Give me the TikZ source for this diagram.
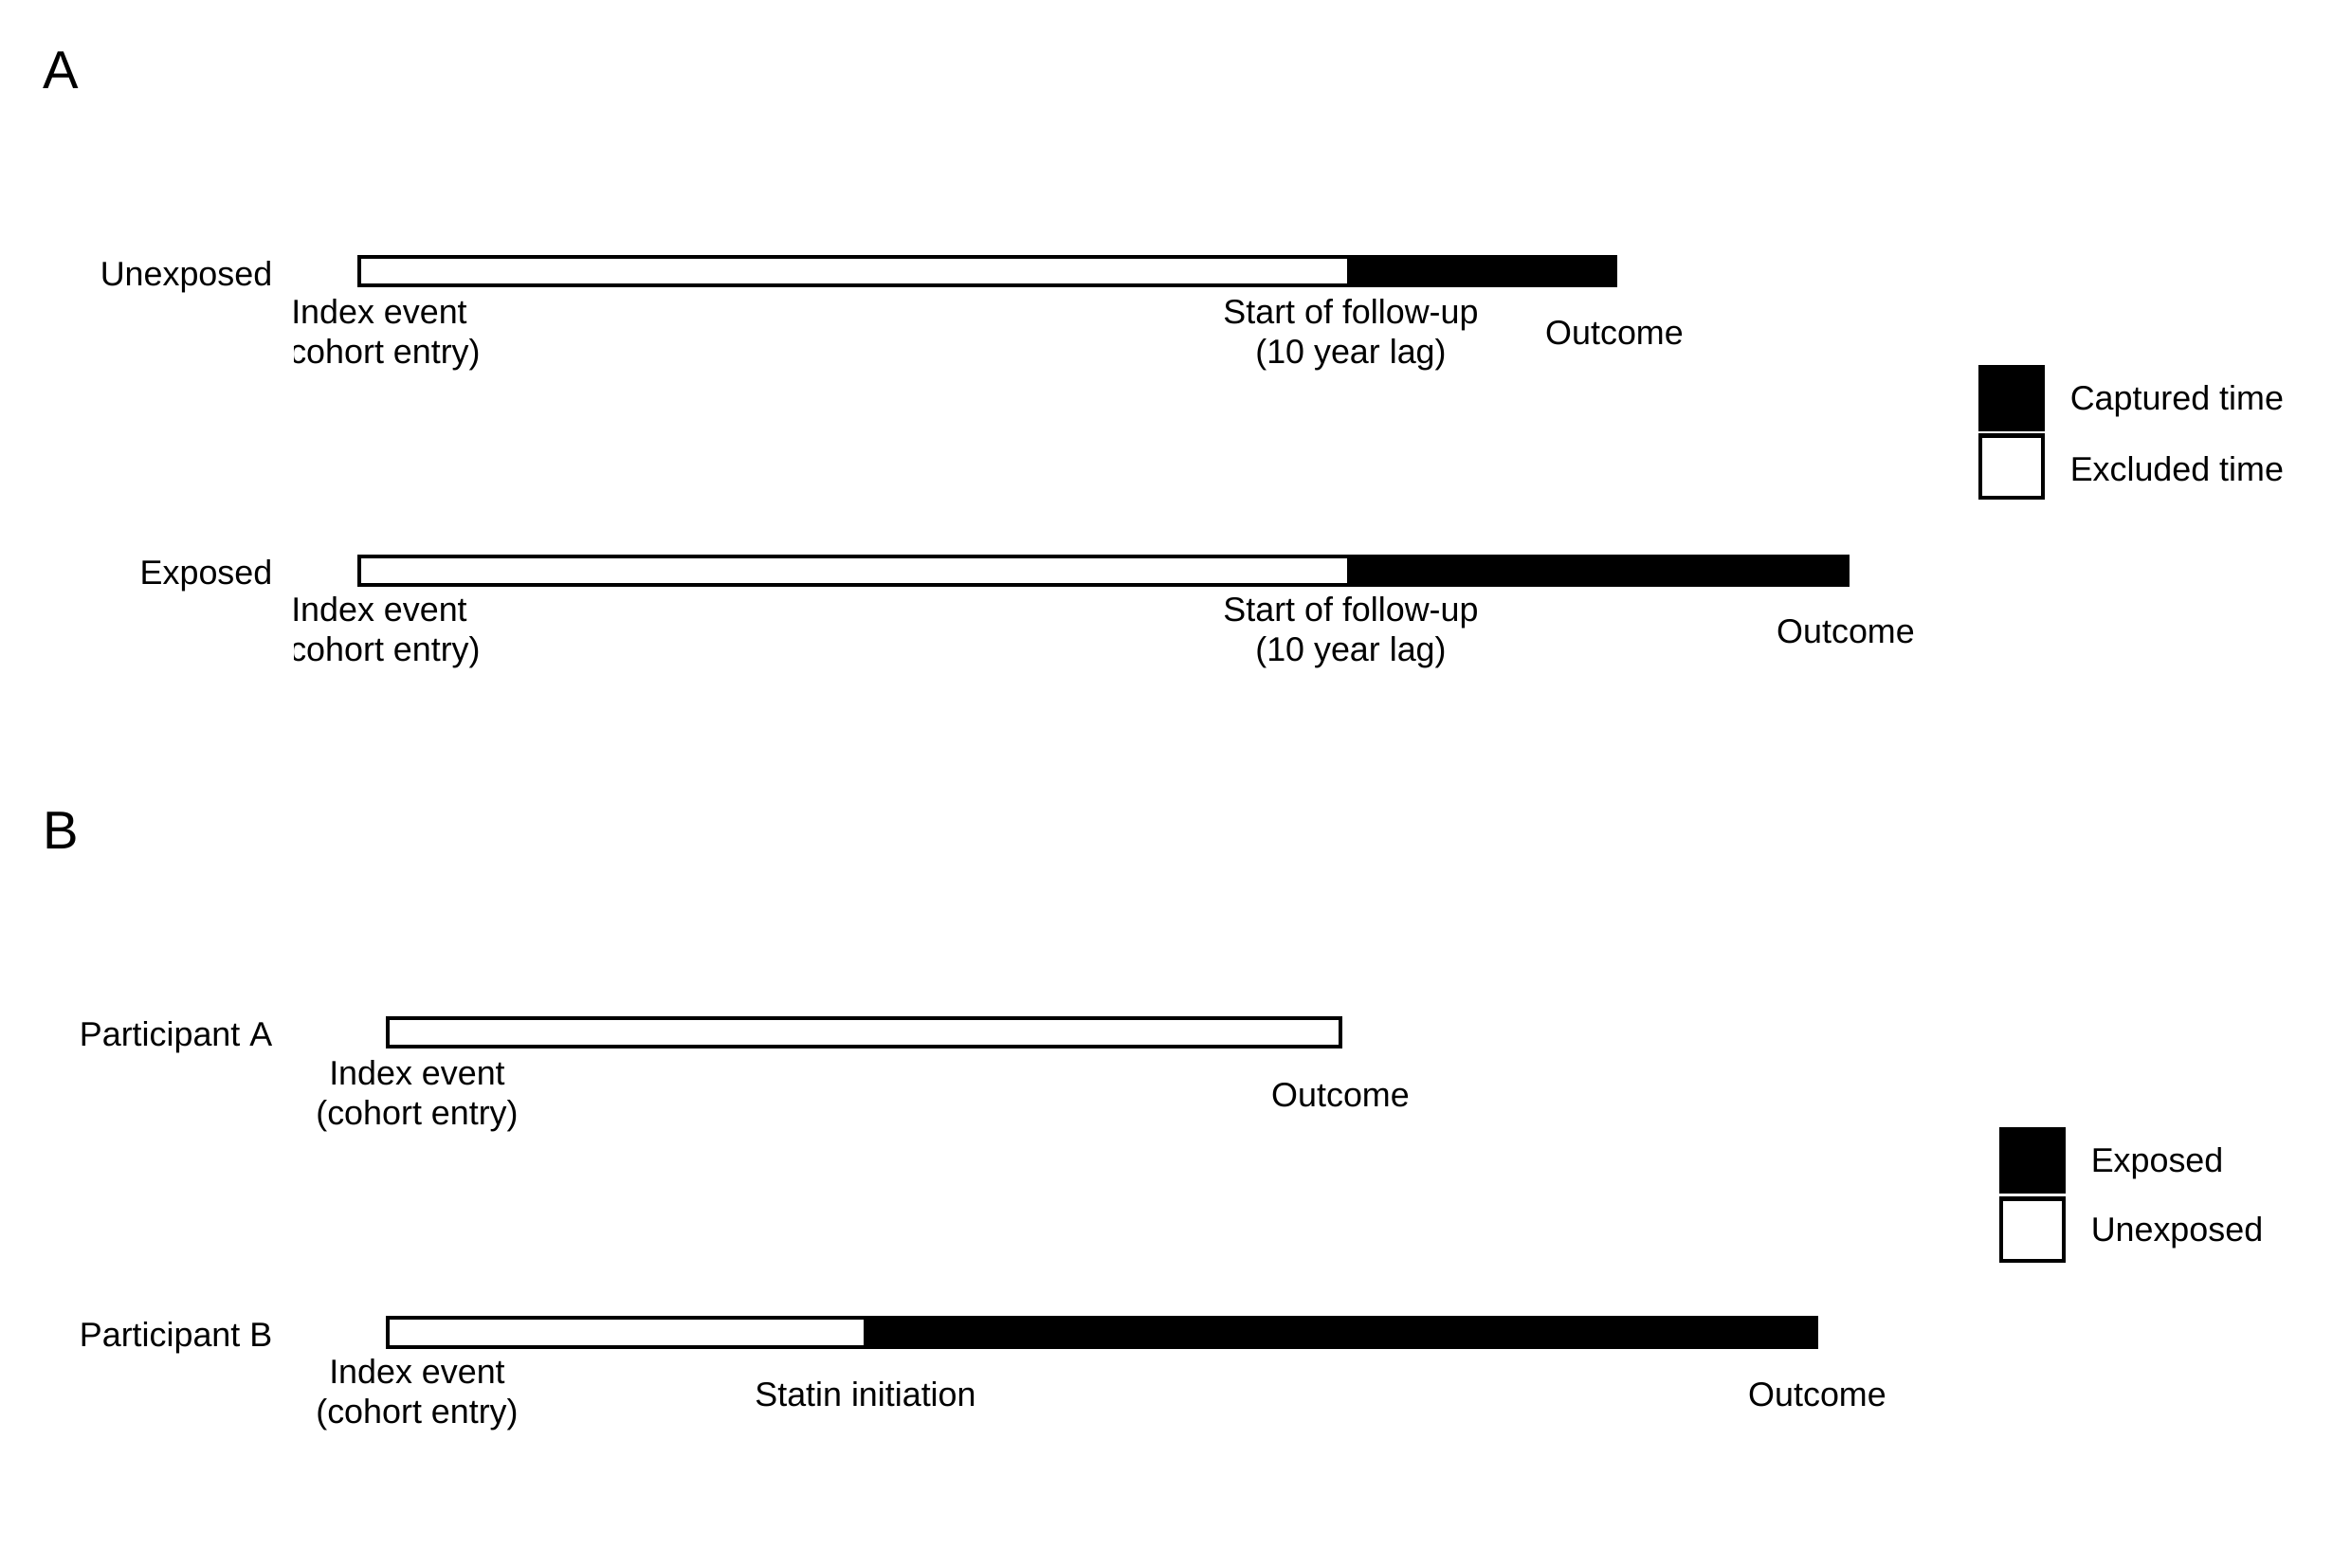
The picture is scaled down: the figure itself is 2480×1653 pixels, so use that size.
\documentclass[tikz,border=0pt]{standalone}
\usepackage{fontspec}
\setmainfont{Liberation Sans}
\usetikzlibrary{positioning}
\newcommand\tlfont{\fontsize{10.2}{12}\selectfont}
\tikzset{
	tl_node/.style = {inner sep=0pt, font=\tlfont},
	tl_row/.style = {tl_node, anchor=east},% libelle de ligne
	tl_evt/.style = {tl_node, align=center},% evenement sous la barre
	tl_pnl/.style = {inner sep=0pt, font=\fontsize{16}{19}\selectfont},% lettre du panneau
	bar_w/.style = {draw=black, fill=white, line width=1.15pt},% temps blanc
	bar_b/.style = {draw=black, fill=black, line width=1.15pt},% temps noir
	leg_b/.style = {rectangle, bar_b, inner sep=0pt,
		minimum width=0.66cm, minimum height=0.65cm},% legende, noir
	leg_w/.style = {leg_b, fill=white},% legende, blanc
	leg_txt/.style = {tl_node, yshift=-0.03cm}% texte de legende
}
\begin{document}
\begin{tikzpicture}[x=0.01cm, y=-0.01cm]
	\useasboundingbox (0,0) rectangle (2480,1653);
	% panneau A
	\node[tl_pnl] (pA) at (64,74) {A};
	\draw[bar_w] (379,271) rectangle (1423,301);
	\draw[bar_b] (1423,271) rectangle (1704,301);
	\draw[bar_w] (379,587) rectangle (1423,617);
	\draw[bar_b] (1423,587) rectangle (1949,617);
	\node[tl_row] (unexp) at (288,292) {Unexposed};
	\node[tl_row] (exp) at (288,607) {Exposed};
	\begin{scope}
		\clip (310,305) rectangle (700,720);
		\node[tl_evt] (idxU) at (400,353) {Index event\\(cohort entry)};
		\node[tl_evt] (idxE) at (400,667) {Index event\\(cohort entry)};
	\end{scope}
	\node[tl_evt] (fupU) at (1425,353) {Start of follow-up\\(10 year lag)};
	\node[tl_evt] (fupE) at (1425,667) {Start of follow-up\\(10 year lag)};
	\node[tl_evt] (outU) at (1703,351) {Outcome};
	\node[tl_evt] (outE) at (1947,666) {Outcome};
	\node[leg_b] (capt) at (2122,420) {};
	\node[leg_w] (excl) at (2122,492) {};
	\node[leg_txt, right=0.26cm of capt] (captT) {Captured time};
	\node[leg_txt, right=0.26cm of excl] (exclT) {Excluded time};
	% panneau B
	\node[tl_pnl] (pB) at (64,876) {B};
	\draw[bar_w] (409,1074) rectangle (1414,1104);
	\draw[bar_w] (409,1390) rectangle (913,1421);
	\draw[bar_b] (913,1390) rectangle (1916,1421);
	\node[tl_row] (partA) at (288,1094) {Participant A};
	\node[tl_row] (partB) at (288,1411) {Participant B};
	\node[tl_evt] (idxA) at (440,1156) {Index event\\(cohort entry)};
	\node[tl_evt] (idxB) at (440,1471) {Index event\\(cohort entry)};
	\node[tl_evt] (outA) at (1414,1155) {Outcome};
	\node[tl_evt] (statB) at (913,1471) {Statin initiation};
	\node[tl_evt] (outB) at (1917,1471) {Outcome};
	\node[leg_b] (expo) at (2144,1224) {};
	\node[leg_w] (unex) at (2144,1297) {};
	\node[leg_txt, right=0.26cm of expo] (expoT) {Exposed};
	\node[leg_txt, right=0.26cm of unex] (unexT) {Unexposed};
\end{tikzpicture}
\end{document}
